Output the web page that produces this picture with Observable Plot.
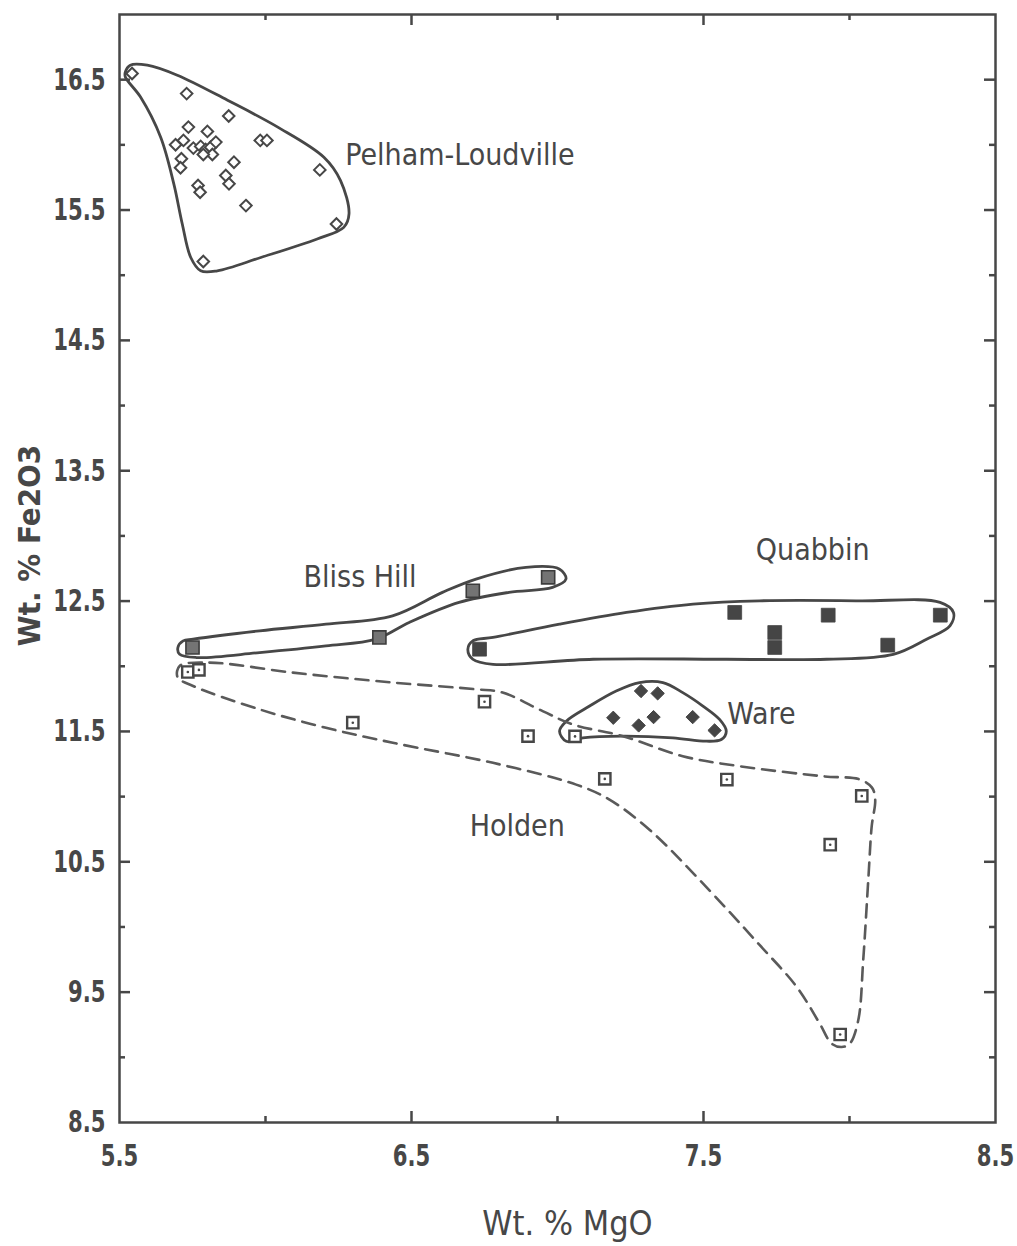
<!DOCTYPE html>
<html><head><meta charset="utf-8">
<script src="https://cdn.jsdelivr.net/npm/d3@7"></script>
<script src="https://cdn.jsdelivr.net/npm/@observablehq/plot@0.6"></script>
<style>body{margin:0;background:#fff}</style>
</head><body><div id="chart"></div>
<script>
// ---- data (Wt.% MgO, Wt.% Fe2O3) ----
const pelham = [[5.543,16.547],[5.730,16.393],[5.874,16.221],[5.736,16.136],[5.801,16.103],[5.692,16.001],[5.719,16.034],[5.753,15.975],[5.778,15.988],[5.795,15.965],[5.812,15.982],[5.830,16.021],[5.818,15.926],[5.787,15.926],[5.982,16.034],[6.005,16.034],[5.712,15.893],[5.709,15.824],[5.892,15.867],[5.864,15.765],[5.875,15.701],[5.769,15.688],[5.776,15.636],[6.186,15.808],[5.933,15.534],[6.243,15.393],[5.787,15.105]];
const bliss = [[5.750,12.144],[6.390,12.221],[6.710,12.579],[6.968,12.682]];
const quabbin = [[6.733,12.131],[7.607,12.413],[7.744,12.259],[7.744,12.144],[7.927,12.392],[8.131,12.162],[8.311,12.392]];
const ware = [[7.286,11.810],[7.343,11.792],[7.191,11.605],[7.329,11.610],[7.278,11.546],[7.463,11.610],[7.538,11.508]];
const holden = [[5.734,11.956],[5.772,11.972],[6.299,11.567],[6.750,11.728],[6.899,11.464],[7.060,11.462],[7.162,11.136],[7.580,11.131],[8.042,11.005],[7.934,10.631],[7.968,9.175]];

// ---- group outlines ----
const pelhamHull = [[5.520,16.559],[5.537,16.611],[5.595,16.611],[5.698,16.534],[5.870,16.342],[6.042,16.136],[6.200,15.905],[6.257,15.726],[6.286,15.470],[6.268,15.367],[6.177,15.278],[5.984,15.136],[5.835,15.034],[5.778,15.034],[5.744,15.136],[5.715,15.393],[5.686,15.701],[5.641,16.059],[5.572,16.367],[5.520,16.521]];
const blissHull = [[5.700,12.144],[5.718,12.195],[5.752,12.208],[5.980,12.272],[6.207,12.323],[6.435,12.387],[6.606,12.567],[6.721,12.669],[6.892,12.759],[7.006,12.746],[7.029,12.669],[6.983,12.605],[6.834,12.567],[6.663,12.490],[6.492,12.336],[6.378,12.208],[6.207,12.156],[5.980,12.105],[5.764,12.067],[5.706,12.092]];
const quabbinHull = [[6.693,12.131],[6.710,12.195],[6.779,12.221],[7.007,12.323],[7.236,12.413],[7.464,12.477],[7.692,12.502],[8.036,12.502],[8.310,12.490],[8.356,12.413],[8.344,12.310],[8.264,12.208],[8.150,12.092],[7.922,12.054],[7.579,12.054],[7.122,12.054],[6.779,12.015],[6.710,12.054]];
const wareHull = [[7.007,11.502],[7.030,11.579],[7.110,11.695],[7.201,11.810],[7.281,11.875],[7.361,11.875],[7.429,11.798],[7.498,11.695],[7.555,11.592],[7.578,11.502],[7.561,11.438],[7.509,11.425],[7.395,11.451],[7.224,11.464],[7.087,11.451],[7.030,11.425]];
const holdenHull = [[5.706,12.002],[5.808,12.028],[6.094,11.951],[6.436,11.875],[6.721,11.823],[6.812,11.798],[6.949,11.656],[7.052,11.554],[7.224,11.464],[7.429,11.310],[7.624,11.233],[7.910,11.156],[8.036,11.131],[8.077,11.069],[8.088,10.977],[8.076,10.772],[8.065,10.387],[8.047,9.746],[8.030,9.285],[8.001,9.105],[7.973,9.079],[7.939,9.105],[7.898,9.259],[7.819,9.541],[7.692,9.862],[7.486,10.362],[7.315,10.746],[7.178,10.977],[7.064,11.092],[6.779,11.259],[6.436,11.413],[6.207,11.528],[5.980,11.669],[5.752,11.849],[5.699,11.915]];

// ---- labels & ticks ----
const groupNames   = ["Pelham-Loudville","Bliss Hill","Quabbin","Ware","Holden"];
const groupLabelX  = [6.273, 6.324, 7.874, 7.581, 6.862];
const groupLabelY  = [15.918, 12.681, 12.888, 11.630, 10.771];
const groupAnchor  = ["start","middle","middle","start","middle"];
const xTickLabels  = [5.5, 6.5, 7.5, 8.5];
const yTickLabels  = [8.5, 9.5, 10.5, 11.5, 12.5, 13.5, 14.5, 15.5, 16.5];
const xMajorTicks  = [6.5, 7.5];
const xMinorTicks  = [6.0, 7.0, 8.0];
const yMajorTicks  = [9.5, 10.5, 11.5, 12.5, 13.5, 14.5, 15.5, 16.5];
const yMinorTicks  = [9.0, 10.0, 11.0, 12.0, 13.0, 14.0, 15.0, 16.0];
const xTitle = "Wt. % MgO";
const yTitle = "Wt. % Fe2O3";

const labels = groupNames.map((name, i) => ({name, x: groupLabelX[i], y: groupLabelY[i], anchor: groupAnchor[i]}));

// ---- layout ----
const W = 1017, H = 1246, mL = 119, mR = 22, mT = 14, mB = 124;
const fw = W - mL - mR, fh = H - mT - mB;
const ink = "#474747";
const cond = "'DejaVu Sans Condensed','Liberation Sans Narrow',sans-serif";
const majorLen = 11, minorLen = 6;
const X = d => d[0], Y = d => d[1];
const lineStyle = {x: X, y: Y, curve: "catmull-rom-closed", stroke: ink, strokeWidth: 2.8};

const chart = Plot.plot({
  width: W, height: H,
  marginLeft: mL, marginRight: mR, marginTop: mT, marginBottom: mB,
  x: {domain: [5.5, 8.5]},
  y: {domain: [8.5, 17]},
  marks: [
    Plot.frame({stroke: ink, strokeWidth: 2.5}),
    // tick labels
    Plot.axisX(xTickLabels, {anchor: "bottom", tickSize: 0, tickPadding: 21, tickFormat: d3.format(".1f"),
      fontSize: 31, fontWeight: "bold", fontFamily: cond, fill: ink, label: null}),
    Plot.axisY(yTickLabels, {anchor: "left", tickSize: 0, tickPadding: 14, tickFormat: d3.format(".1f"),
      fontSize: 31, fontWeight: "bold", fontFamily: cond, fill: ink, label: null}),
    // inward tick marks: left / right
    Plot.tickY(yMajorTicks, {y: d => d, stroke: ink, strokeWidth: 2.5, insetRight: fw - majorLen}),
    Plot.tickY(yMinorTicks, {y: d => d, stroke: ink, strokeWidth: 2.5, insetRight: fw - minorLen}),
    Plot.tickY(yMajorTicks, {y: d => d, stroke: ink, strokeWidth: 2.5, insetLeft: fw - majorLen}),
    Plot.tickY(yMinorTicks, {y: d => d, stroke: ink, strokeWidth: 2.5, insetLeft: fw - minorLen}),
    // inward tick marks: top / bottom
    Plot.tickX(xMajorTicks, {x: d => d, stroke: ink, strokeWidth: 2.5, insetTop: fh - majorLen}),
    Plot.tickX(xMinorTicks, {x: d => d, stroke: ink, strokeWidth: 2.5, insetTop: fh - minorLen}),
    Plot.tickX(xMajorTicks, {x: d => d, stroke: ink, strokeWidth: 2.5, insetBottom: fh - majorLen}),
    Plot.tickX(xMinorTicks, {x: d => d, stroke: ink, strokeWidth: 2.5, insetBottom: fh - minorLen}),
    // outlines
    Plot.line(pelhamHull, lineStyle),
    Plot.line(blissHull, lineStyle),
    Plot.line(quabbinHull, lineStyle),
    Plot.line(wareHull, lineStyle),
    Plot.line(holdenHull, {...lineStyle, stroke: "#5a5a5a", strokeWidth: 2.6, strokeDasharray: "13,8"}),
    // points
    Plot.dot(pelham, {x: X, y: Y, symbol: "diamond2", r: 5.2, stroke: ink, strokeWidth: 2, fill: "white"}),
    Plot.dot(bliss, {x: X, y: Y, symbol: "square", r: 7.4, fill: "#747474", stroke: "#3c3c3c", strokeWidth: 1.6}),
    Plot.dot(quabbin, {x: X, y: Y, symbol: "square", r: 7.8, fill: "#454545", stroke: "#454545", strokeWidth: 0.8, strokeLinejoin: "round"}),
    Plot.dot(ware, {x: X, y: Y, symbol: "diamond2", r: 6.0, fill: "#454545", stroke: "#454545", strokeWidth: 1}),
    Plot.dot(holden, {x: X, y: Y, symbol: "square2", r: 7.2, stroke: ink, strokeWidth: 2.4, fill: "white"}),
    Plot.dot(holden, {x: X, y: Y, r: 1.3, fill: ink}),
    // group labels
    Plot.text(labels.filter(d => d.anchor === "start"), {x: "x", y: "y", text: "name", textAnchor: "start",
      fontSize: 30, fontFamily: cond, fill: ink}),
    Plot.text(labels.filter(d => d.anchor === "middle"), {x: "x", y: "y", text: "name", textAnchor: "middle",
      fontSize: 30, fontFamily: cond, fill: ink}),
    // axis titles
    Plot.text([xTitle], {frameAnchor: "bottom", dx: 10, dy: 112, text: d => d, fontSize: 34, textAnchor: "middle",
      fontFamily: cond, fill: ink, ariaLabel: "x-title"}),
    Plot.text([yTitle], {frameAnchor: "left", dx: -89, dy: -23, rotate: -90, text: d => d, fontSize: 31,
      textAnchor: "middle", lineAnchor: "middle",
      fontWeight: "bold", fontFamily: cond, fill: ink, ariaLabel: "y-title"})
  ]
});
document.getElementById("chart").appendChild(chart);

// condense tick labels horizontally (plotter-like narrow digits)
function squeeze(sel, s) {
  chart.querySelectorAll(sel).forEach(t => {
    const tr = t.getAttribute("transform") || "";
    t.setAttribute("transform", tr + ` scale(${s},1)`);
  });
}
squeeze('g[aria-label="x-axis tick label"] text', 0.76);
squeeze('g[aria-label="y-axis tick label"] text', 0.76);
// stretch titles to the widths of the original lettering
chart.querySelectorAll('g[aria-label="x-title"] text').forEach(t => {
  t.setAttribute("textLength", 185); t.setAttribute("lengthAdjust", "spacingAndGlyphs");
});
chart.querySelectorAll('g[aria-label="y-title"] text').forEach(t => {
  t.setAttribute("textLength", 220); t.setAttribute("lengthAdjust", "spacingAndGlyphs");
});
</script>
</body></html>
